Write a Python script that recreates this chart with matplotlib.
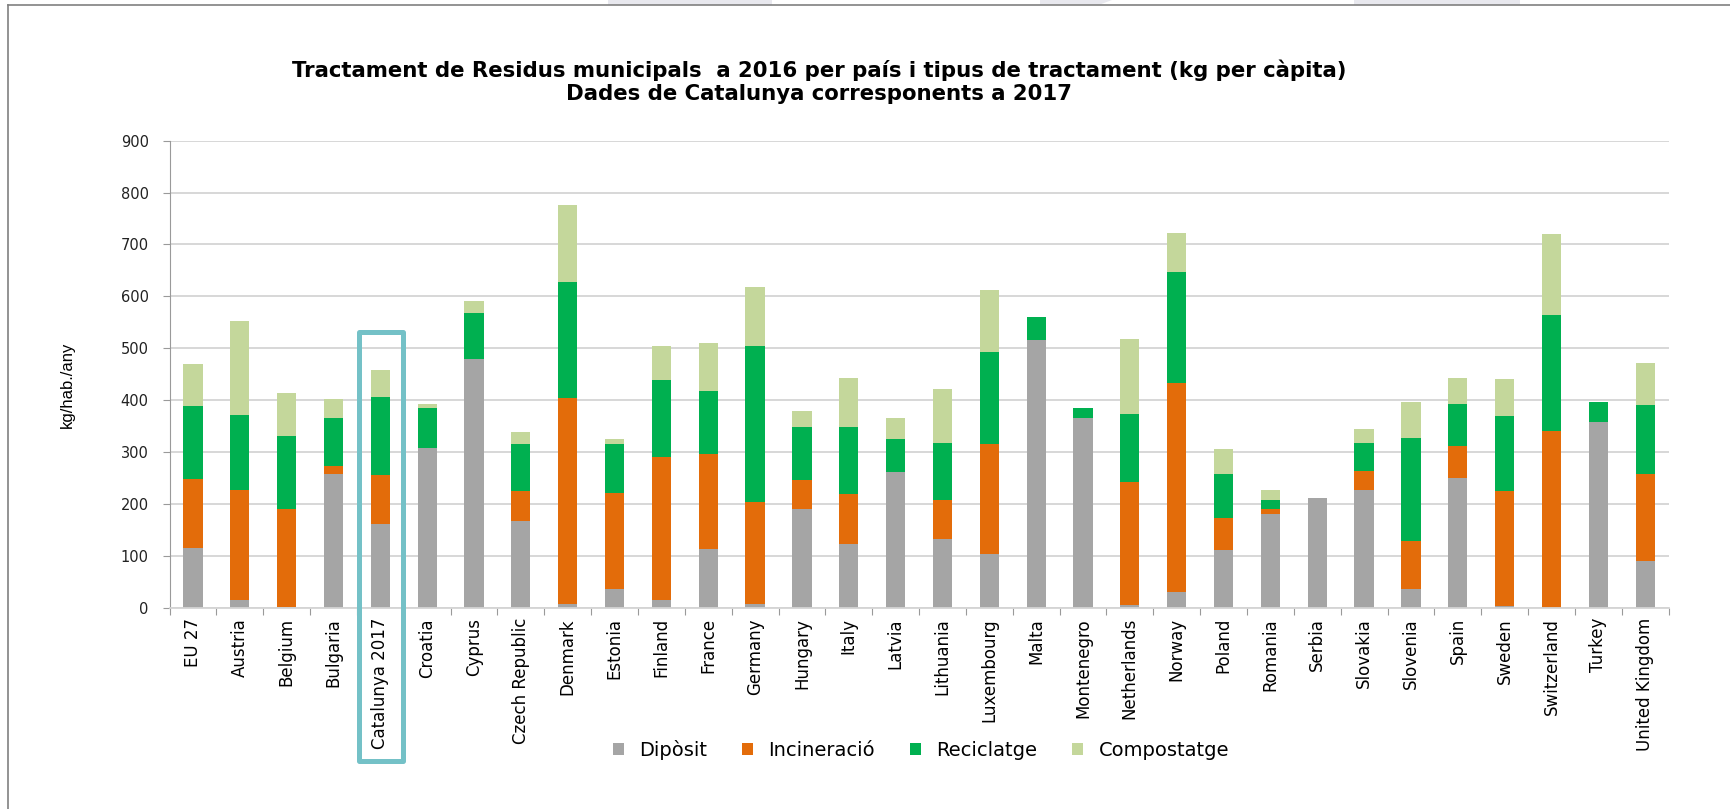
import numpy as np
import matplotlib
matplotlib.use('Agg')
import matplotlib.pyplot as plt
from matplotlib.patches import Rectangle, Polygon
from matplotlib.lines import Line2D

# Dades (kg/hab./any), llegides del gràfic
paisos = ['EU 27', 'Austria', 'Belgium', 'Bulgaria', 'Catalunya 2017', 'Croatia',
          'Cyprus', 'Czech Republic', 'Denmark', 'Estonia', 'Finland', 'France',
          'Germany', 'Hungary', 'Italy', 'Latvia', 'Lithuania', 'Luxembourg', 'Malta',
          'Montenegro', 'Netherlands', 'Norway', 'Poland', 'Romania', 'Serbia',
          'Slovakia', 'Slovenia', 'Spain', 'Sweden', 'Switzerland', 'Turkey',
          'United Kingdom']
diposit = [116, 14, 2, 258, 162, 308, 480, 168, 8, 37, 15, 114, 8, 191, 122, 262,
           132, 104, 515, 365, 6, 31, 111, 181, 211, 227, 37, 250, 3, 0, 358, 90]
incineracio = [132, 212, 188, 16, 94, 0, 0, 56, 397, 184, 276, 183, 195, 56, 98, 0,
               76, 211, 1, 0, 236, 403, 61, 10, 0, 36, 91, 61, 222, 341, 0, 168]
reciclatge = [141, 145, 140, 92, 151, 77, 87, 91, 223, 95, 147, 120, 302, 102, 129, 63,
              109, 177, 44, 19, 131, 212, 85, 17, 1, 55, 200, 81, 144, 224, 38, 132]
compostatge = [80, 181, 84, 37, 51, 7, 24, 23, 148, 10, 66, 93, 114, 31, 94, 41,
               104, 121, 0, 0, 145, 77, 49, 19, 0, 26, 68, 51, 72, 155, 0, 82]

series = [('Dipòsit', diposit, '#a5a5a5'),
          ('Incineració', incineracio, '#e36c0a'),
          ('Reciclatge', reciclatge, '#00b050'),
          ('Compostatge', compostatge, '#c4d79b')]
destacat = 'Catalunya 2017'

W, H = 1731, 809
fig = plt.figure(figsize=(W / 100, H / 100), dpi=100)
ax = fig.add_axes([169.5 / W, 1 - 607.7 / H, (1668.6 - 169.5) / W, 467 / H])

x = np.arange(len(paisos))
base = np.zeros(len(paisos))
handles = []
for nom, vals, col in series:
    b = ax.bar(x, vals, width=0.41, bottom=base, color=col, label=nom, zorder=2)
    handles.append(b)
    base = base + np.array(vals)

ax.set_xlim(-0.5, len(paisos) - 0.5)
ax.set_ylim(0, 900)
ax.set_yticks(range(0, 901, 100))
ax.yaxis.grid(True, color='#d4d4d4', lw=1.3, zorder=0)
ax.set_axisbelow(True)

for s in ['top', 'right']:
    ax.spines[s].set_visible(False)
ax.spines['left'].set_color('#9a9a9a')
ax.spines['bottom'].set_color('#d4d4d4')
ax.spines['bottom'].set_linewidth(1.3)

ax.tick_params(axis='y', length=5, color='#9a9a9a', pad=10, labelsize=10.5,
               labelcolor='#222222')
ax.set_xticks(np.arange(-0.5, len(paisos), 1))
ax.set_xticklabels([])
ax.set_xticks(x, minor=True)
ax.set_xticklabels(paisos, minor=True, rotation=90, fontsize=12, va='top', ha='center')
ax.tick_params(axis='x', which='major', length=5, color='#9a9a9a')
ax.tick_params(axis='x', which='minor', length=0, pad=7.5)

fig.text(67 / W, 1 - 385 / H, 'kg/hab./any', rotation=90, ha='center', va='center',
         fontsize=12, family=['Liberation Sans', 'DejaVu Sans'])

fig.text(819 / W, 1 - 70 / H,
         'Tractament de Residus municipals  a 2016 per país i tipus de tractament (kg per càpita)',
         ha='center', va='center', fontsize=15.3, fontweight='bold')
fig.text(819 / W, 1 - 94 / H, 'Dades de Catalunya corresponents a 2017',
         ha='center', va='center', fontsize=15.3, fontweight='bold')

fig.legend(handles=handles, loc='center', bbox_to_anchor=(0.532, 1 - 750 / H),
           ncol=4, frameon=False, fontsize=14, handlelength=0.55, handleheight=0.55,
           handletextpad=0.8, columnspacing=1.8)

# requadre de Catalunya
i = paisos.index(destacat)
x0 = fig.transFigure.inverted().transform(ax.transData.transform((i - 0.46, 532)))
x1 = fig.transFigure.inverted().transform(ax.transData.transform((i + 0.48, 0)))
y_baix = 1 - 760.5 / H
fig.add_artist(Rectangle((x0[0], y_baix), x1[0] - x0[0], x0[1] - y_baix,
                         transform=fig.transFigure, fill=False, edgecolor='#74c1c7',
                         lw=3.6, joinstyle='round', zorder=5))

# marc de la diapositiva
fig.add_artist(Line2D([8.3 / W, 8.3 / W], [0, 1 - 5.3 / H], transform=fig.transFigure,
                      color='#808080', lw=1.2))
fig.add_artist(Line2D([8.3 / W, 1], [1 - 5.3 / H, 1 - 5.3 / H], transform=fig.transFigure,
                      color='#808080', lw=1.2))
for xa, xb in [(608, 772), (1354, 1520)]:
    fig.add_artist(Rectangle((xa / W, 1 - 4.5 / H), (xb - xa) / W, 4.5 / H,
                             transform=fig.transFigure, color='#e8e8ee', lw=0))
fig.add_artist(Polygon([(1040 / W, 1), (1112 / W, 1), (1100 / W, 1 - 4.5 / H),
                        (1040 / W, 1 - 4.5 / H)], transform=fig.transFigure,
                       color='#e8e8ee', lw=0))

fig.savefig('out.png', dpi=100)
